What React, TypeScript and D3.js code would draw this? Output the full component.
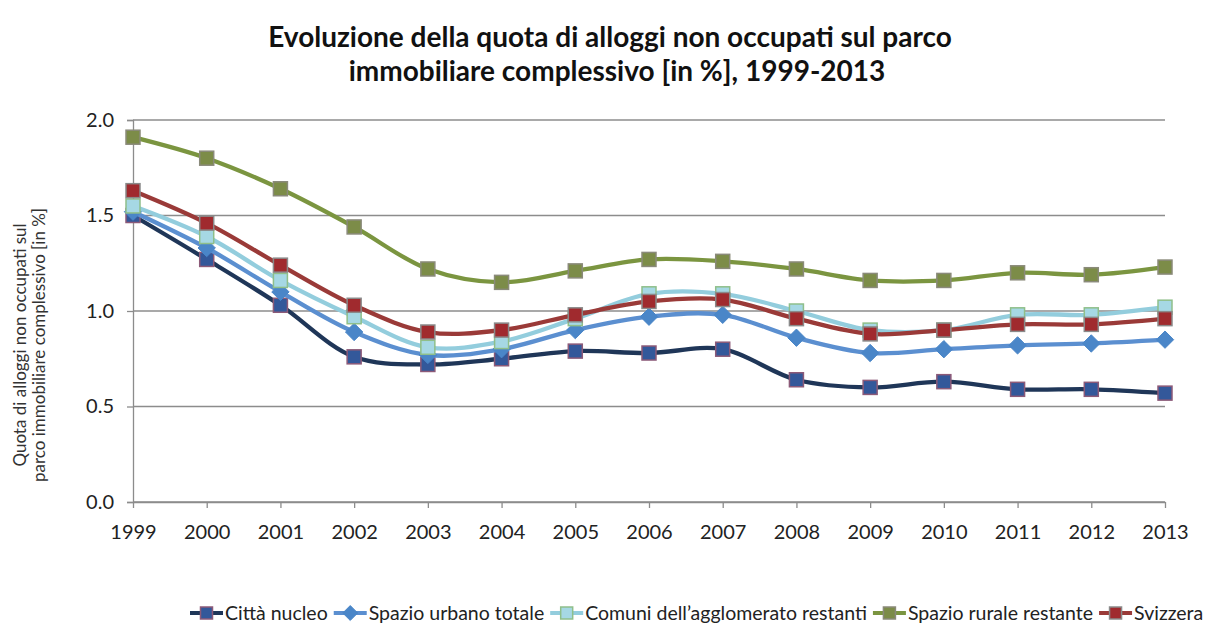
import React, { useEffect, useRef } from "react";
import * as d3 from "d3";

const years = [1999, 2000, 2001, 2002, 2003, 2004, 2005, 2006, 2007, 2008, 2009, 2010, 2011, 2012, 2013];
const cittaNucleo = [1.50, 1.27, 1.03, 0.76, 0.72, 0.75, 0.79, 0.78, 0.80, 0.64, 0.60, 0.63, 0.59, 0.59, 0.57];
const spazioUrbano = [1.52, 1.33, 1.10, 0.89, 0.77, 0.80, 0.90, 0.97, 0.98, 0.86, 0.78, 0.80, 0.82, 0.83, 0.85];
const comuniAgglo = [1.55, 1.39, 1.16, 0.97, 0.81, 0.84, 0.96, 1.09, 1.09, 1.00, 0.90, 0.90, 0.98, 0.98, 1.02];
const spazioRurale = [1.91, 1.80, 1.64, 1.44, 1.22, 1.15, 1.21, 1.27, 1.26, 1.22, 1.16, 1.16, 1.20, 1.19, 1.23];
const svizzera = [1.63, 1.46, 1.24, 1.03, 0.89, 0.90, 0.98, 1.05, 1.06, 0.96, 0.88, 0.90, 0.93, 0.93, 0.96];
const yTicks = [0, 0.5, 1.0, 1.5, 2.0];

const seriesNames = [
  "Città nucleo",
  "Spazio urbano totale",
  "Comuni dell’agglomerato restanti",
  "Spazio rurale restante",
  "Svizzera",
];
const seriesValues = [cittaNucleo, spazioUrbano, comuniAgglo, spazioRurale, svizzera];
const lineColors = ["#1f3658", "#5b8fd0", "#93cddd", "#7b9540", "#9a3a38"];
const markerFills = ["#33589a", "#4a86c8", "#a6d8e4", "#7c8c48", "#a02a2e"];
const markerStrokes = ["#8c5a78", "#4a86c8", "#8fbf8a", "#8a8a7a", "#8a8a8a"];
const markerShapes = ["square", "diamond", "square", "square", "square"];

const FONT = "Lato, 'Open Sans', sans-serif";

export default function App() {
  const ref = useRef<SVGSVGElement>(null);

  useEffect(() => {
    const svg = d3.select(ref.current);
    svg.selectAll("*").remove();

    const W = 1210, H = 627;
    const left = 133, right = 1165, top = 120, bottom = 502;

    const x = d3.scalePoint<number>().domain(years).range([left, right]);
    const y = d3.scaleLinear().domain([0, 2]).range([bottom, top]);

    svg.append("rect").attr("width", W).attr("height", H).attr("fill", "#fff");

    // Title
    const title = svg.append("text")
      .attr("text-anchor", "middle")
      .attr("font-family", FONT)
      .attr("font-weight", "bold")
      .attr("font-size", 28)
      .attr("fill", "#111");
    title.append("tspan").attr("x", 610).attr("y", 47).text("Evoluzione della quota di alloggi non occupati sul parco");
    title.append("tspan").attr("x", 617).attr("y", 81).text("immobiliare complessivo [in %], 1999-2013");

    // Grid
    svg.append("g").selectAll("line").data(yTicks).join("line")
      .attr("x1", left).attr("x2", right)
      .attr("y1", (d) => y(d)).attr("y2", (d) => y(d))
      .attr("stroke", "#8c8c8c").attr("stroke-width", 1.3);

    // Y axis
    const yAxis = svg.append("g").attr("transform", `translate(${left},0)`)
      .call(d3.axisLeft(y).tickValues(yTicks).tickFormat(d3.format(".1f")).tickSize(6).tickPadding(13));
    yAxis.select(".domain").attr("stroke", "#8c8c8c").attr("stroke-width", 1.3);
    yAxis.selectAll(".tick line").attr("stroke", "#8c8c8c").attr("stroke-width", 1.3);
    yAxis.selectAll("text").attr("font-family", FONT).attr("font-size", 20).attr("fill", "#222");

    // X axis
    const xAxis = svg.append("g").attr("transform", `translate(0,${bottom})`)
      .call(d3.axisBottom(x).tickSize(6).tickPadding(17).tickSizeOuter(0));
    xAxis.select(".domain").attr("stroke", "#8c8c8c").attr("stroke-width", 1.3);
    xAxis.selectAll(".tick line").attr("stroke", "#8c8c8c").attr("stroke-width", 1.3);
    xAxis.selectAll("text").attr("font-family", FONT).attr("font-size", 20).attr("fill", "#222");

    // Y title
    const yt = svg.append("text")
      .attr("transform", "translate(0,345) rotate(-90)")
      .attr("text-anchor", "middle")
      .attr("font-family", FONT)
      .attr("font-size", 17)
      .attr("fill", "#333");
    yt.append("tspan").attr("x", 0).attr("y", 26).text("Quota di alloggi non occupati sul");
    yt.append("tspan").attr("x", 0).attr("y", 45).text("parco immobiliare complessivo [in %]");

    const line = d3.line<number>()
      .x((_, i) => x(years[i]) as number)
      .y((d) => y(d))
      .curve(d3.curveCatmullRom.alpha(0.5));

    const drawMarker = (g: any, cx: number, cy: number, si: number, size: number) => {
      if (markerShapes[si] === "diamond") {
        const r = size * 0.62;
        g.append("path")
          .attr("d", `M${cx},${cy - r}L${cx + r},${cy}L${cx},${cy + r}L${cx - r},${cy}Z`)
          .attr("fill", markerFills[si]).attr("stroke", markerStrokes[si]).attr("stroke-width", 1);
      } else {
        g.append("rect")
          .attr("x", cx - size / 2).attr("y", cy - size / 2)
          .attr("width", size).attr("height", size)
          .attr("fill", markerFills[si]).attr("stroke", markerStrokes[si]).attr("stroke-width", 1.5);
      }
    };

    seriesValues.forEach((vals, si) => {
      const g = svg.append("g");
      g.append("path").attr("d", line(vals) as string)
        .attr("fill", "none").attr("stroke", lineColors[si]).attr("stroke-width", 4.3)
        .attr("stroke-linejoin", "round");
      vals.forEach((v, i) => drawMarker(g, x(years[i]) as number, y(v), si, 14));
    });

    // Legend
    const lg = svg.append("g");
    let lx = 190;
    const ly = 613;
    seriesNames.forEach((name, si) => {
      lg.append("line").attr("x1", lx).attr("x2", lx + 33).attr("y1", ly).attr("y2", ly)
        .attr("stroke", lineColors[si]).attr("stroke-width", 4);
      drawMarker(lg, lx + 16.5, ly, si, 12);
      const t = lg.append("text").attr("x", lx + 35).attr("y", ly + 7)
        .attr("font-family", FONT).attr("font-size", 19.5).attr("fill", "#222").text(name);
      const w = (t.node() as SVGTextElement).getComputedTextLength();
      lx += 35 + w + 6;
    });
  }, []);

  return (
    <svg ref={ref} width={1210} height={627}
      style={{ position: "absolute", left: 0, top: 0, display: "block" }} />
  );
}
